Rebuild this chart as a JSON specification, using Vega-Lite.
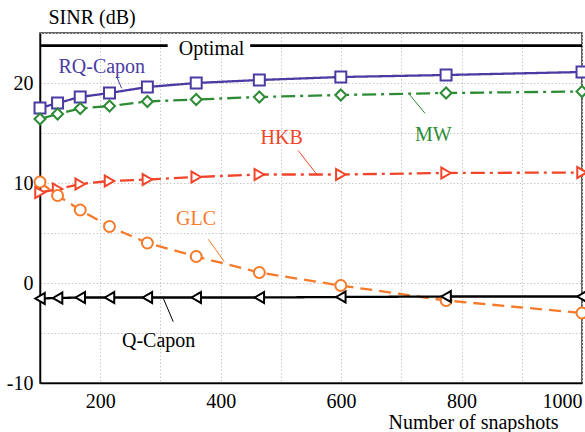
{
  "$schema": "https://vega.github.io/schema/vega-lite/v6.json",
  "autosize": "none",
  "width": 542,
  "height": 350,
  "padding": {"left": 40, "top": 33, "right": 3, "bottom": 49},
  "background": "white",
  "config": {
    "font": "Liberation Serif",
    "view": {"stroke": "#333333", "strokeWidth": 1.5},
    "axis": {"labelFont": "Liberation Serif", "titleFont": "Liberation Serif", "labelFontSize": 20, "titleFontSize": 20, "titleFontWeight": "normal", "labelColor": "black", "titleColor": "black", "ticks": false, "domainColor": "black", "domainWidth": 1.5, "gridColor": "#c8c8c8", "gridDash": [1.5, 2], "gridWidth": 1}
  },
  "datasets": {
    "series": [
      {"method": "RQ-Capon", "n": 100, "sinr": 17.5},
      {"method": "RQ-Capon", "n": 129.2, "sinr": 18.0},
      {"method": "RQ-Capon", "n": 166.8, "sinr": 18.6},
      {"method": "RQ-Capon", "n": 215.4, "sinr": 19.0},
      {"method": "RQ-Capon", "n": 278.3, "sinr": 19.6},
      {"method": "RQ-Capon", "n": 359.4, "sinr": 20.0},
      {"method": "RQ-Capon", "n": 464.2, "sinr": 20.3},
      {"method": "RQ-Capon", "n": 599.5, "sinr": 20.6},
      {"method": "RQ-Capon", "n": 774.3, "sinr": 20.8},
      {"method": "RQ-Capon", "n": 1000, "sinr": 21.1},
      {"method": "MW", "n": 100, "sinr": 16.4},
      {"method": "MW", "n": 129.2, "sinr": 16.9},
      {"method": "MW", "n": 166.8, "sinr": 17.45},
      {"method": "MW", "n": 215.4, "sinr": 17.7},
      {"method": "MW", "n": 278.3, "sinr": 18.15},
      {"method": "MW", "n": 359.4, "sinr": 18.35},
      {"method": "MW", "n": 464.2, "sinr": 18.6},
      {"method": "MW", "n": 599.5, "sinr": 18.8},
      {"method": "MW", "n": 774.3, "sinr": 19.0},
      {"method": "MW", "n": 1000, "sinr": 19.15},
      {"method": "HKB", "n": 100, "sinr": 9.05},
      {"method": "HKB", "n": 129.2, "sinr": 9.4},
      {"method": "HKB", "n": 166.8, "sinr": 9.9},
      {"method": "HKB", "n": 215.4, "sinr": 10.2},
      {"method": "HKB", "n": 278.3, "sinr": 10.35},
      {"method": "HKB", "n": 359.4, "sinr": 10.6},
      {"method": "HKB", "n": 464.2, "sinr": 10.85},
      {"method": "HKB", "n": 599.5, "sinr": 10.85},
      {"method": "HKB", "n": 774.3, "sinr": 11.0},
      {"method": "HKB", "n": 1000, "sinr": 11.05},
      {"method": "GLC", "n": 100, "sinr": 10.1},
      {"method": "GLC", "n": 129.2, "sinr": 8.75},
      {"method": "GLC", "n": 166.8, "sinr": 7.3},
      {"method": "GLC", "n": 215.4, "sinr": 5.65},
      {"method": "GLC", "n": 278.3, "sinr": 4.0},
      {"method": "GLC", "n": 359.4, "sinr": 2.65},
      {"method": "GLC", "n": 464.2, "sinr": 1.05},
      {"method": "GLC", "n": 599.5, "sinr": -0.25},
      {"method": "GLC", "n": 774.3, "sinr": -1.75},
      {"method": "GLC", "n": 1000, "sinr": -3.0},
      {"method": "Q-Capon", "n": 100, "sinr": -1.55},
      {"method": "Q-Capon", "n": 129.2, "sinr": -1.5},
      {"method": "Q-Capon", "n": 166.8, "sinr": -1.45},
      {"method": "Q-Capon", "n": 215.4, "sinr": -1.45},
      {"method": "Q-Capon", "n": 278.3, "sinr": -1.45},
      {"method": "Q-Capon", "n": 359.4, "sinr": -1.45},
      {"method": "Q-Capon", "n": 464.2, "sinr": -1.45},
      {"method": "Q-Capon", "n": 599.5, "sinr": -1.4},
      {"method": "Q-Capon", "n": 774.3, "sinr": -1.35},
      {"method": "Q-Capon", "n": 1000, "sinr": -1.35}
    ],
    "optimal": [
      {"seg": "a", "n": 100, "sinr": 23.73},
      {"seg": "a", "n": 312, "sinr": 23.73},
      {"seg": "b", "n": 449, "sinr": 23.73},
      {"seg": "b", "n": 1000, "sinr": 23.73}
    ],
    "leaders": [
      {"method": "RQ-Capon", "n": 227.4, "sinr": 20.63, "n2": 235.6, "sinr2": 19.47},
      {"method": "MW", "n": 713.2, "sinr": 18.87, "n2": 739.3, "sinr2": 16.97},
      {"method": "HKB", "n": 528.9, "sinr": 13.23, "n2": 559.5, "sinr2": 10.87},
      {"method": "GLC", "n": 379.5, "sinr": 4.37, "n2": 406, "sinr2": 2.13},
      {"method": "Q-Capon", "n": 304.7, "sinr": -1.53, "n2": 321.3, "sinr2": -3.87}
    ],
    "labels": [
      {"method": "RQ-Capon", "text": "RQ-Capon", "n": 202.6, "sinr": 21.03},
      {"method": "MW", "text": "MW", "n": 753, "sinr": 14.23},
      {"method": "HKB", "text": "HKB", "n": 501.3, "sinr": 13.9},
      {"method": "GLC", "text": "GLC", "n": 359, "sinr": 5.8},
      {"method": "Q-Capon", "text": "Q-Capon", "n": 297, "sinr": -6.37},
      {"method": "Optimal", "text": "Optimal", "n": 385, "sinr": 22.8}
    ]
  },
  "layer": [
    {
      "data": {"name": "optimal"},
      "mark": {"type": "line", "color": "black", "strokeWidth": 2.8},
      "encoding": {
        "x": {"field": "n", "type": "quantitative", "scale": {"domain": [100, 1000], "nice": false},
          "axis": {"values": [100, 200, 300, 400, 500, 600, 700, 800, 900, 1000], "labelExpr": "datum.value % 200 == 0 ? toString(datum.value) : ''", "labelFlush": true, "labelPadding": 8,
            "labelFont": "Liberation Serif", "titleFont": "Liberation Serif",
            "title": "Number of snapshots", "titleAlign": "right", "titleBaseline": "alphabetic", "titleX": 518, "titleY": 45}},
        "y": {"field": "sinr", "type": "quantitative", "scale": {"domain": [-10, 25], "nice": false},
          "axis": {"values": [-10, -5, 0, 5, 10, 15, 20, 25], "labelExpr": "datum.value % 10 == 0 ? toString(datum.value) : ''", "labelPadding": 7,
            "labelFont": "Liberation Serif", "titleFont": "Liberation Serif",
            "title": "SINR (dB)", "titleAngle": 0, "titleAlign": "left", "titleBaseline": "alphabetic", "titleX": 8, "titleY": -10}},
        "detail": {"field": "seg"}
      }
    },
    {
      "data": {"name": "series"},
      "mark": {"type": "line", "strokeWidth": 2.3},
      "encoding": {
        "x": {"field": "n", "type": "quantitative"},
        "y": {"field": "sinr", "type": "quantitative"},
        "color": {"field": "method", "type": "nominal", "legend": null,
          "scale": {"domain": ["RQ-Capon", "MW", "HKB", "GLC", "Q-Capon", "Optimal"], "range": ["#4a3ca3", "#2e8b35", "#f0452a", "#f57a2a", "#000000", "#000000"]}},
        "strokeDash": {"field": "method", "type": "nominal", "legend": null,
          "scale": {"domain": ["RQ-Capon", "MW", "HKB", "GLC", "Q-Capon"], "range": [[1, 0], [14, 5, 3, 5], [14, 5, 3, 5], [12, 7], [1, 0]]}}
      }
    },
    {
      "data": {"name": "series"},
      "mark": {"type": "point", "filled": false, "fill": "white", "fillOpacity": 1, "strokeWidth": 2, "size": 120, "opacity": 1},
      "encoding": {
        "x": {"field": "n", "type": "quantitative"},
        "y": {"field": "sinr", "type": "quantitative"},
        "color": {"field": "method", "type": "nominal", "legend": null},
        "shape": {"field": "method", "type": "nominal", "legend": null,
          "scale": {"domain": ["RQ-Capon", "MW", "HKB", "GLC", "Q-Capon"], "range": ["square", "diamond", "triangle-right", "circle", "triangle-left"]}}
      }
    },
    {
      "data": {"name": "leaders"},
      "mark": {"type": "rule", "strokeWidth": 1},
      "encoding": {
        "x": {"field": "n", "type": "quantitative"},
        "y": {"field": "sinr", "type": "quantitative"},
        "x2": {"field": "n2"},
        "y2": {"field": "sinr2"},
        "color": {"field": "method", "type": "nominal", "legend": null}
      }
    },
    {
      "data": {"name": "labels"},
      "mark": {"type": "text", "fontSize": 20, "font": "Liberation Serif", "align": "center", "baseline": "alphabetic"},
      "encoding": {
        "x": {"field": "n", "type": "quantitative"},
        "y": {"field": "sinr", "type": "quantitative"},
        "text": {"field": "text"},
        "color": {"field": "method", "type": "nominal", "legend": null}
      }
    }
  ]
}
